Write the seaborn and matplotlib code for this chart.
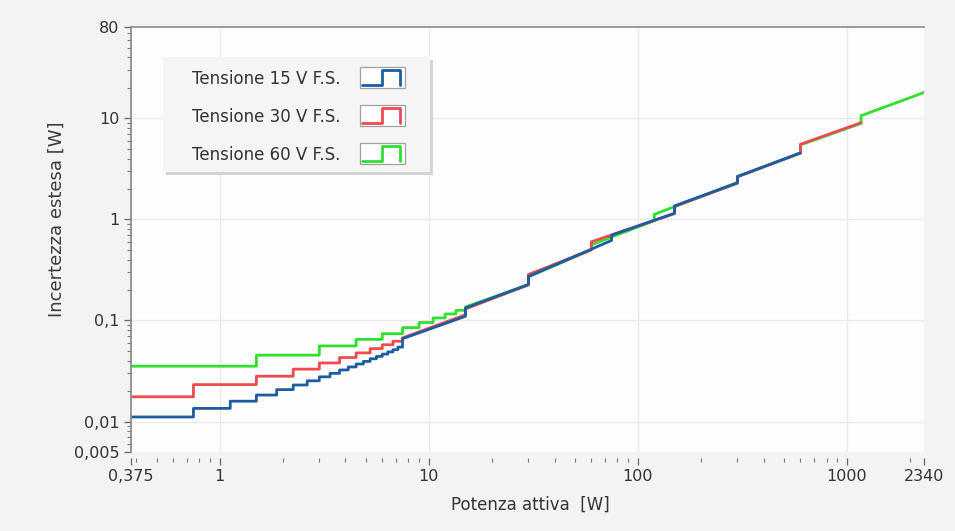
import numpy as np
import pandas as pd
import seaborn as sns
import matplotlib.pyplot as plt
from matplotlib.lines import Line2D
from matplotlib.patches import Rectangle
from matplotlib.legend_handler import HandlerBase
from matplotlib.ticker import FixedLocator, FixedFormatter, LogLocator, NullFormatter

# 15 V F.S. - low power staircase (held value from p[i] to p[i+1]) + high power ranges
p15_steps = [0.375, 0.75, 1.125, 1.5, 1.875, 2.25, 2.625, 3.0, 3.375, 3.75,
             4.125, 4.5, 4.875, 5.25, 5.625, 6.0, 6.375, 6.75, 7.125, 7.5]
u15_steps = [0.0111, 0.0135, 0.0159, 0.0183, 0.0207, 0.0230, 0.0253, 0.0277, 0.0300, 0.0324,
             0.0347, 0.0371, 0.0394, 0.0418, 0.0441, 0.0465, 0.0489, 0.0514, 0.0545]
p15_line = [7.5, 15, 15, 30, 30, 75, 75, 150, 150, 300, 300, 600]
u15_line = [0.066, 0.110, 0.133, 0.227, 0.272, 0.62, 0.70, 1.15, 1.36, 2.30, 2.65, 4.55]

# 30 V F.S.
p30_steps = [0.375, 0.75, 1.5, 2.25, 3.0, 3.75, 4.5, 5.25, 6.0, 6.75, 7.5]
u30_steps = [0.0176, 0.0232, 0.0281, 0.0330, 0.0380, 0.0430, 0.0478, 0.0527, 0.0575, 0.0623]
p30_line = [7.5, 15, 15, 30, 30, 60, 60, 150, 150, 300, 300, 600, 600, 1170]
u30_line = [0.0672, 0.114, 0.130, 0.225, 0.285, 0.50, 0.60, 1.14, 1.34, 2.28, 2.64, 4.52, 5.53, 9.05]

# 60 V F.S.
p60_steps = [0.375, 1.5, 3.0, 4.5, 6.0, 7.5, 9.0, 10.5, 12.0, 13.5, 15.0]
u60_steps = [0.0353, 0.0454, 0.0560, 0.0650, 0.0740, 0.0850, 0.0955, 0.106, 0.116, 0.126]
p60_line = [15, 30, 30, 60, 60, 120, 120, 300, 300, 600, 600, 1170, 1170, 2340]
u60_line = [0.136, 0.226, 0.27, 0.50, 0.56, 0.97, 1.12, 2.32, 2.66, 4.52, 5.45, 8.9, 10.6, 18.0]

labels = ["Tensione 15 V F.S.", "Tensione 30 V F.S.", "Tensione 60 V F.S."]
colors = ["#1d5ca3", "#ee4a4f", "#2fe02f"]

x_ticks = [0.375, 1, 10, 100, 1000, 2340]
x_ticklabels = ["0,375", "1", "10", "100", "1000", "2340"]
y_ticks = [0.005, 0.01, 0.1, 1, 10, 80]
y_ticklabels = ["0,005", "0,01", "0,1", "1", "10", "80"]


def build_series(p_steps, u_steps, p_line, u_line, name):
    # staircase vertices followed by the sloped range segments
    px, uy = [], []
    for i, u in enumerate(u_steps):
        px += [p_steps[i], p_steps[i + 1]]
        uy += [u, u]
    px += p_line
    uy += u_line
    return pd.DataFrame({"P": px, "U": uy, "serie": name})


class StepIcon(HandlerBase):
    def create_artists(self, legend, orig_handle, xdescent, ydescent,
                       width, height, fontsize, trans):
        x0, y0 = -xdescent, -ydescent
        frame = Rectangle((x0, y0 - 0.2 * height), width, 1.4 * height,
                          facecolor="white", edgecolor="#a0a0a0", lw=0.9, transform=trans)
        xs = [x0 + 0.06 * width, x0 + 0.5 * width, x0 + 0.5 * width,
              x0 + 0.9 * width, x0 + 0.9 * width]
        ys = [y0 + 0.0 * height, y0 + 0.0 * height, y0 + 1.0 * height,
              y0 + 1.0 * height, y0 + 0.0 * height]
        line = Line2D(xs, ys, color=orig_handle.get_color(), lw=2.0, transform=trans)
        return [frame, line]


df15 = build_series(p15_steps, u15_steps, p15_line, u15_line, labels[0])
df30 = build_series(p30_steps, u30_steps, p30_line, u30_line, labels[1])
df60 = build_series(p60_steps, u60_steps, p60_line, u60_line, labels[2])

sns.set_theme(style="white")
plt.rcParams["font.family"] = ["DejaVu Sans"]

fig = plt.figure(figsize=(9.55, 5.31), dpi=100, facecolor="#f3f3f3")
ax = fig.add_axes([130.5 / 955, 1 - 452 / 531, 793.5 / 955, 425 / 531])
ax.set_facecolor("#fdfdfd")
ax.set_xscale("log")
ax.set_yscale("log")

# green underneath, blue on top
for df, c in [(df60, colors[2]), (df30, colors[1]), (df15, colors[0])]:
    sns.lineplot(data=df, x="P", y="U", color=c, lw=2.0, sort=False,
                 estimator=None, ax=ax, legend=False)

ax.set_xlim(0.375, 2340)
ax.set_ylim(0.005, 80)

ax.xaxis.set_major_locator(FixedLocator(x_ticks))
ax.xaxis.set_major_formatter(FixedFormatter(x_ticklabels))
ax.xaxis.set_minor_locator(LogLocator(base=10, subs=np.arange(2, 10)))
ax.xaxis.set_minor_formatter(NullFormatter())
ax.yaxis.set_major_locator(FixedLocator(y_ticks))
ax.yaxis.set_major_formatter(FixedFormatter(y_ticklabels))
ax.yaxis.set_minor_locator(LogLocator(base=10, subs=np.arange(2, 10)))
ax.yaxis.set_minor_formatter(NullFormatter())

ax.tick_params(axis="both", which="major", direction="out", length=5, width=0.9,
               color="#666666", labelsize=11.5, labelcolor="#333333", pad=3)
ax.tick_params(axis="both", which="minor", direction="out", length=3, width=0.8,
               color="#777777")
ax.tick_params(axis="x", which="both", bottom=True)
ax.tick_params(axis="y", which="both", left=True)

for v in [1, 10, 100, 1000]:
    ax.axvline(v, color="#e9e9e9", lw=0.9, zorder=0)
for v in [0.01, 0.1, 1, 10]:
    ax.axhline(v, color="#e9e9e9", lw=0.9, zorder=0)

ax.spines["bottom"].set_position(("outward", 4))
ax.spines["bottom"].set_visible(False)
ax.spines["right"].set_visible(False)
ax.spines["left"].set_color("#8a8a8a")
ax.spines["top"].set_color("#8a8a8a")
ax.spines["top"].set_linewidth(1.2)

ax.set_xlabel("")
ax.set_ylabel("")
fig.text(530 / 955, 1 - 505 / 531, "Potenza attiva  [W]", ha="center", va="center",
         fontsize=12, color="#333333")
fig.text(57 / 955, 1 - 219 / 531, "Incertezza estesa [W]", ha="center", va="center",
         rotation=90, fontsize=13, color="#3a3a3a")

# legend panel with a soft shadow
ax.add_patch(Rectangle((0.045, 0.651), 0.3365, 0.2706, transform=ax.transAxes,
                       facecolor="#d4d4d4", edgecolor="none", zorder=4))
ax.add_patch(Rectangle((0.041, 0.659), 0.3365, 0.2706, transform=ax.transAxes,
                       facecolor="#f5f5f5", edgecolor="none", zorder=4))

handles = [Line2D([], [], color=c) for c in colors]
leg = ax.legend(handles, labels, loc="upper left", bbox_to_anchor=(0.0775, 0.900),
                borderaxespad=0, borderpad=0, markerfirst=False, fontsize=12,
                handler_map={Line2D: StepIcon()}, handlelength=2.7, handleheight=1.0,
                handletextpad=1.15, labelspacing=1.2, frameon=False)
leg.set_zorder(5)
for t in leg.get_texts():
    t.set_color("#333333")

fig.savefig("out.png", dpi=100, facecolor=fig.get_facecolor())
